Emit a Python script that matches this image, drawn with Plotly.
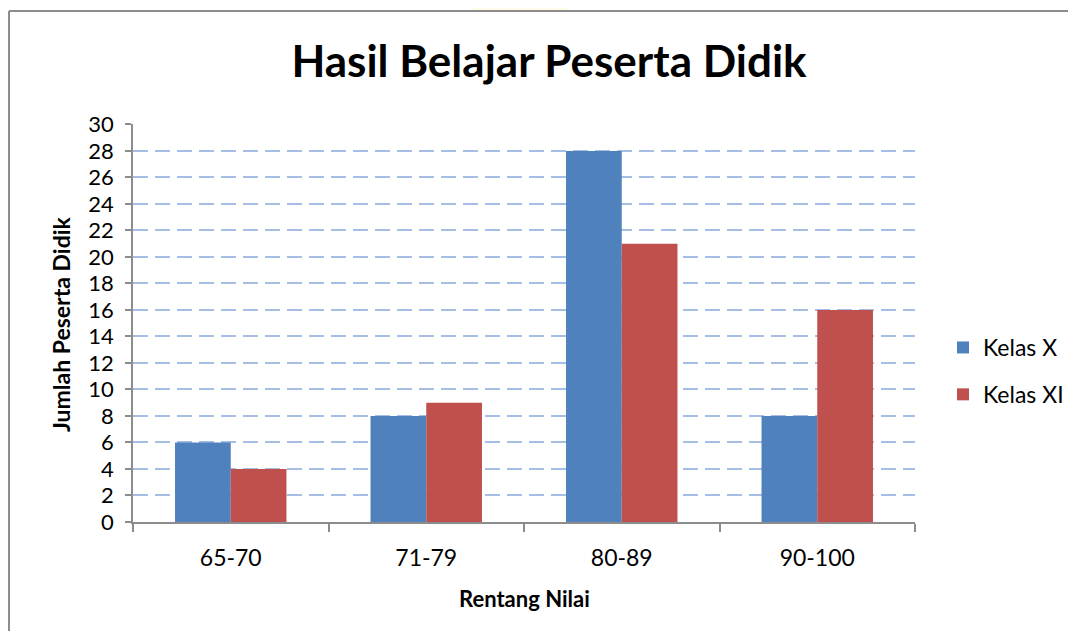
import plotly.graph_objects as go

categories = ["65-70", "71-79", "80-89", "90-100"]
kelas_x = [6, 8, 28, 8]
kelas_xi = [4, 9, 21, 16]
y_ticks = list(range(0, 31, 2))

FONT = "Lato"
OFF = 8  # page body margin
W, H = 1076 - 2 * OFF, 639 - 2 * OFF
L = 133 - OFF
T = 124 - OFF
R = W - (915 - OFF)
B = H - (522 - OFF)
pw, ph = W - L - R, H - T - B

def px(x):
    return (x - OFF - L) / pw

def py(y):
    return (H - B - (y - OFF)) / ph

fig = go.Figure()
fig.add_trace(go.Bar(x=categories, y=kelas_x, name="Kelas X", marker_color="#4F81BD",
                     marker_line_width=0, legendgroup="a"))
fig.add_trace(go.Bar(x=categories, y=kelas_xi, name="Kelas XI", marker_color="#C0504D",
                     marker_line_width=0, legendgroup="b"))

fig.update_layout(
    width=W, height=H,
    margin=dict(l=L, r=R, t=T, b=B, autoexpand=False),
    paper_bgcolor="white", plot_bgcolor="white",
    barmode="group", bargap=0.43, bargroupgap=0,
    font=dict(family=FONT, color="black"),
    title=dict(text="Hasil Belajar Peserta Didik", x=px(549), xref="paper", xanchor="center",
               y=1 - (62 - OFF) / H, yref="container", yanchor="middle",
               font=dict(family=FONT, size=44, weight="bold", color="black")),
    legend=dict(x=(943 - OFF) / W, y=1 - (371 - OFF) / H, xref="container", yref="container",
                xanchor="left", yanchor="middle",
                font=dict(size=23, family=FONT), tracegroupgap=14, bgcolor="rgba(0,0,0,0)"),
    showlegend=True,
)

fig.update_xaxes(
    type="category", tickson="boundaries", ticks="outside", ticklen=8, tickcolor="#8C8C8C",
    tickwidth=1.5, showline=True, linecolor="#8C8C8C", linewidth=1.5, showgrid=False,
    tickfont=dict(size=23, family=FONT), ticklabelstandoff=15,
)
fig.update_yaxes(
    range=[0, 30.03], tickvals=y_ticks, ticks="outside", ticklen=6, tickcolor="#8C8C8C",
    tickwidth=1.5, showline=True, linecolor="#8C8C8C", linewidth=1.5,
    showgrid=True, gridcolor="#A6BDE4", gridwidth=1.6, griddash="15px,7px",
    tickfont=dict(size=22, family=FONT), zeroline=False, ticklabelstandoff=7,
)

fig.add_annotation(text="<b>Jumlah Peserta Didik</b>", textangle=-90, x=px(61), y=py(324),
                   xref="paper", yref="paper", xanchor="center", yanchor="middle", showarrow=False,
                   font=dict(size=23, family=FONT, color="black"))
fig.add_annotation(text="<b>Rentang Nilai</b>", x=px(524), y=py(598),
                   xref="paper", yref="paper", xanchor="center", yanchor="middle", showarrow=False,
                   font=dict(size=22, family=FONT, color="black"))

# chart border (left and top) and faint watermark
fig.add_shape(type="path", xref="paper", yref="paper",
              path=f"M {px(470)} {py(11)} L {px(572)} {py(11)} L {px(556)} {py(0)} L {px(486)} {py(0)} Z",
              fillcolor="#FFFBE6", line_width=0, layer="below")
fig.add_shape(type="line", xref="paper", yref="paper", x0=px(9), x1=px(1076), y0=py(11), y1=py(11),
              line=dict(color="#8C8C8C", width=2))
fig.add_shape(type="line", xref="paper", yref="paper", x0=px(9), x1=px(9), y0=py(11), y1=py(639),
              line=dict(color="#8C8C8C", width=2))

fig.write_html("out.html")
